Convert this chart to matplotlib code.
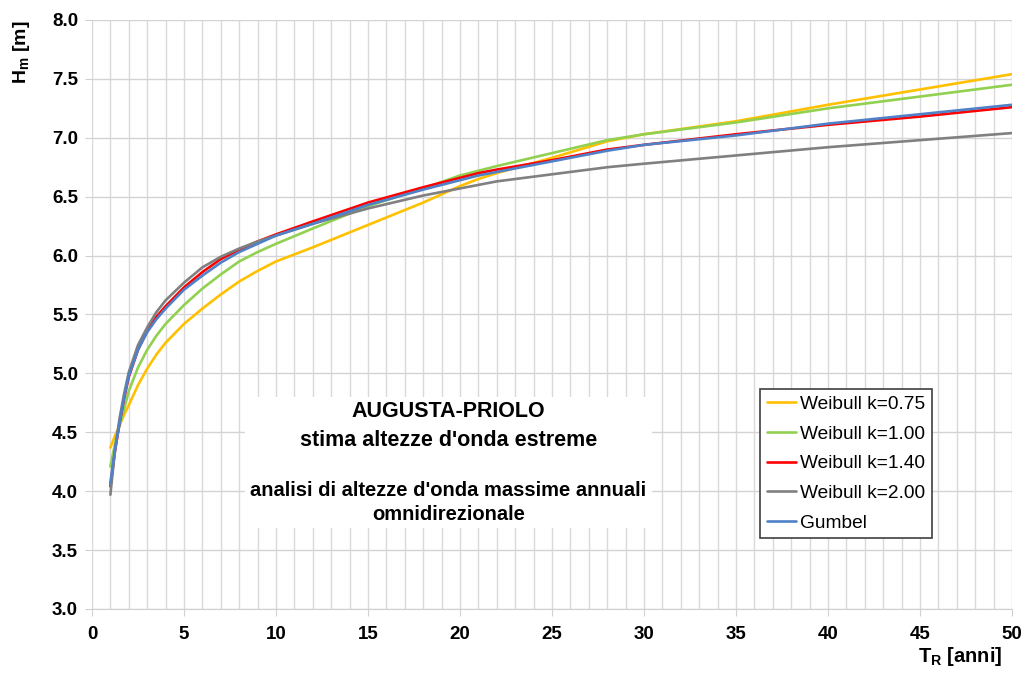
import matplotlib
matplotlib.use("Agg")
import matplotlib.pyplot as plt
import matplotlib.patches as mpatches
import numpy as np

plt.rcParams['font.family'] = ['Liberation Sans', 'DejaVu Sans']
plt.rcParams['mathtext.fontset'] = 'custom'
plt.rcParams['mathtext.rm'] = 'Liberation Sans:bold'
plt.rcParams['mathtext.it'] = 'Liberation Sans:bold'
plt.rcParams['mathtext.bf'] = 'Liberation Sans:bold'

# return period T_R [anni] and wave height H_m [m]
t_r = [1, 1.25, 1.5, 1.75, 2, 2.5, 3, 3.5, 4, 5, 6, 7, 8, 9,
       10, 12, 15, 18, 20, 21, 22, 25, 28, 30, 35, 40, 45, 50]

h_w075 = [4.37, 4.47, 4.56, 4.65, 4.73, 4.90, 5.04, 5.16, 5.26, 5.42, 5.55, 5.67, 5.78, 5.87,
          5.95, 6.07, 6.26, 6.45, 6.59, 6.65, 6.70, 6.83, 6.97, 7.03, 7.14, 7.28, 7.41, 7.54]
h_w100 = [4.21, 4.40, 4.56, 4.70, 4.85, 5.05, 5.20, 5.32, 5.42, 5.58, 5.72, 5.84, 5.95, 6.03,
          6.10, 6.23, 6.42, 6.57, 6.68, 6.72, 6.76, 6.87, 6.98, 7.03, 7.13, 7.25, 7.35, 7.45]
h_w140 = [4.04, 4.34, 4.58, 4.79, 4.97, 5.20, 5.36, 5.48, 5.57, 5.73, 5.86, 5.97, 6.05, 6.12,
          6.18, 6.29, 6.45, 6.58, 6.66, 6.70, 6.73, 6.81, 6.90, 6.94, 7.03, 7.11, 7.18, 7.26]
h_w200 = [3.97, 4.35, 4.62, 4.83, 5.01, 5.24, 5.39, 5.52, 5.62, 5.77, 5.90, 5.99, 6.06, 6.12,
          6.17, 6.27, 6.40, 6.51, 6.57, 6.60, 6.63, 6.69, 6.75, 6.78, 6.85, 6.92, 6.98, 7.04]
h_gumbel = [4.07, 4.35, 4.58, 4.80, 4.98, 5.20, 5.35, 5.46, 5.55, 5.71, 5.83, 5.94, 6.03, 6.10,
            6.17, 6.27, 6.43, 6.56, 6.64, 6.68, 6.71, 6.80, 6.89, 6.94, 7.02, 7.12, 7.20, 7.28]

labels = ['Weibull k=0.75', 'Weibull k=1.00', 'Weibull k=1.40', 'Weibull k=2.00', 'Gumbel']
colors = ['#FFC000', '#92D050', '#FF0000', '#808080', '#4F81C8']
series = [h_w075, h_w100, h_w140, h_w200, h_gumbel]

fig = plt.figure(figsize=(10.3, 6.73), dpi=100)
ax = fig.add_axes([0.0893, 0.0951, 0.8932, 0.8752])

for h, c, lab in zip(series, colors, labels):
    ax.plot(t_r, h, color=c, lw=1.9, label=lab, solid_capstyle='round',
            solid_joinstyle='round')

ax.set_xlim(0, 50)
ax.set_ylim(3.0, 8.0)
ax.set_xticks(np.arange(0, 51, 5))
ax.set_xticks(np.arange(0, 51, 1), minor=True)
ax.set_yticks(np.arange(3.0, 8.01, 0.5))
ax.set_yticklabels(['%.1f' % v for v in np.arange(3.0, 8.01, 0.5)])

ax.grid(which='both', axis='x', color='#d9d9d9', lw=1.0)
ax.grid(which='major', axis='y', color='#d4d4d4', lw=1.0)
ax.set_axisbelow(True)
for s in ['top', 'right', 'left']:
    ax.spines[s].set_visible(False)
ax.spines['bottom'].set_color('#d0d0d0')
ax.tick_params(axis='x', which='major', length=5, color='#d0d0d0', pad=7,
               labelsize=13.5)
ax.tick_params(axis='x', which='minor', length=0)
ax.tick_params(axis='y', length=5, color='#d0d0d0', pad=5, labelsize=13.5)
for lbl in ax.get_xticklabels() + ax.get_yticklabels():
    lbl.set_fontweight('bold')

leg = ax.legend(loc='lower left', bbox_to_anchor=(0.726, 0.12), borderaxespad=0,
                fancybox=False, framealpha=1, edgecolor='#404040', fontsize=13.8,
                handlelength=1.55, handletextpad=0.2, labelspacing=0.64,
                borderpad=0.35)
leg.get_frame().set_linewidth(1.2)

# white panel with the site caption
ax.add_patch(mpatches.Rectangle((0.1663, 0.1375), 0.4424, 0.2224, transform=ax.transAxes,
                                facecolor='white', edgecolor='none', zorder=1.5))
caption = [("AUGUSTA-PRIOLO", 0.3345, 15.5),
           ("stima altezze d'onda estreme", 0.2869, 15.5),
           ("analisi di altezze d'onda massime annuali", 0.2020, 14.5),
           ("omnidirezionale", 0.1596, 14.5)]
for txt, yy, fs in caption:
    ax.text(0.3875, yy, txt, transform=ax.transAxes, ha='center', va='center',
            fontsize=fs, fontweight='bold', zorder=3)

fig.text(22 / 1030, 1 - 52 / 673, r'H$_\mathrm{m}$ [m]', rotation=90,
         ha='center', va='center', fontsize=14, fontweight='bold')
fig.text(1002 / 1030, 1 - 657 / 673, r'T$_\mathrm{R}$ [anni]',
         ha='right', va='center', fontsize=14.5, fontweight='bold')

fig.savefig('out.png', dpi=100)
